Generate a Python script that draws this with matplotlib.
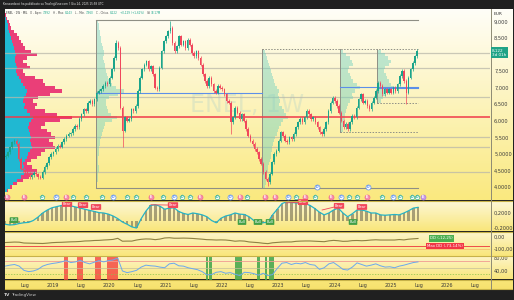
import numpy as np
import matplotlib.pyplot as plt
import matplotlib.colors as mcolors
from matplotlib.lines import Line2D

W, H = 514, 300

# ---------------- data ----------------
# biweekly closes (EUR), first bar mid-Feb 2018
bar_start = 2018.16
first_open = 4.90
c2018 = [4.95, 5.05, 5.20, 5.35, 5.40, 5.30, 4.85, 4.55, 4.50, 4.45, 4.40, 4.30, 4.35, 4.42, 4.38,
         4.30, 4.28, 4.45, 4.60, 4.72, 4.90, 5.00]
c2019 = [5.05, 5.15, 5.25, 5.22, 5.35, 5.45, 5.55, 5.60, 5.62, 5.75, 5.85, 5.80, 6.05, 6.20, 6.35,
         6.30, 6.55, 6.60, 6.50, 6.65, 6.85, 6.90, 6.95, 7.05, 7.15, 7.10]
c2020 = [7.30, 7.55, 7.90, 8.35, 8.20, 6.40, 5.70, 6.10, 6.00, 6.05, 6.35, 6.30, 6.45, 6.90, 7.30,
         7.55, 7.70, 7.80, 7.55, 7.65, 7.40, 7.00, 6.95, 7.60, 8.10, 8.40]
c2021 = [8.55, 8.70, 8.80, 8.35, 8.10, 8.25, 8.55, 8.30, 8.40, 8.20, 8.45, 8.30, 8.05, 7.95, 8.10,
         7.90, 7.70, 7.40, 7.20, 7.05, 7.30, 7.10, 6.90, 6.85, 7.05, 7.00]
c2022 = [6.95, 6.80, 6.60, 6.55, 5.95, 6.10, 6.40, 6.25, 6.05, 6.20, 6.00, 5.75, 5.55, 5.40, 5.30,
         5.15, 5.05, 4.85, 4.70, 4.45, 4.25, 4.15, 4.40, 4.75, 5.00, 5.10]
c2023 = [5.40, 5.65, 5.55, 5.40, 5.35, 5.50, 5.45, 5.60, 5.80, 5.95, 6.05, 5.95, 6.10, 6.30, 6.20,
         6.05, 6.10, 5.95, 5.80, 5.65, 5.60, 5.75, 5.95, 6.30, 6.55, 6.70]
c2024 = [6.60, 6.45, 6.25, 6.00, 5.80, 5.90, 5.75, 5.95, 6.15, 6.10, 6.40, 6.65, 6.80, 6.55, 6.60,
         6.45, 6.35, 6.55, 6.70, 6.90, 7.15, 7.05, 6.80, 6.95, 6.85, 6.95]
c2025 = [6.85, 7.00, 6.90, 7.10, 7.35, 7.50, 7.20, 6.85, 7.30, 7.55, 7.75, 7.95, 8.12]
closes = c2018 + c2019 + c2020 + c2021 + c2022 + c2023 + c2024 + c2025
# bars whose wick reaches well beyond the body: index -> (low, high)
wick_extremes = {51: (None, 8.44), 54: (5.20, None), 76: (None, 9.00), 104: (5.60, None),
                 121: (4.02, None), 185: (6.52, None)}

# visible-range volume profile (left), price levels 9.2 .. 3.9
vp_levels = [9.2, 9.1, 9.0, 8.9, 8.8, 8.7, 8.6, 8.5, 8.4, 8.3, 8.2, 8.1, 8.0, 7.9, 7.8, 7.7, 7.6, 7.5,
             7.4, 7.3, 7.2, 7.1, 7.0, 6.9, 6.8, 6.7, 6.6, 6.5, 6.4, 6.3, 6.2, 6.1, 6.0, 5.9, 5.8, 5.7,
             5.6, 5.5, 5.4, 5.3, 5.2, 5.1, 5.0, 4.9, 4.8, 4.7, 4.6, 4.5, 4.4, 4.3, 4.2, 4.1, 4.0, 3.9]
vp_total = [1, 2, 4, 5, 6, 9, 12, 14, 16, 18, 20, 26, 32, 22, 18, 22, 25, 18, 20, 30, 38, 40, 50, 57,
            45, 33, 28, 32, 30, 40, 52, 67, 55, 40, 36, 42, 46, 50, 44, 48, 50, 40, 36, 32, 26, 22,
            27, 32, 30, 24, 18, 12, 7, 3]
vp_up = [0.5, 1, 2, 3, 3, 4, 5, 6, 7, 8, 9, 10, 11, 10, 10, 11, 12, 11, 12, 14, 16, 18, 20, 22, 21,
         19, 18, 20, 19, 22, 25, 28, 26, 24, 23, 24, 25, 26, 25, 26, 27, 25, 23, 22, 20, 18, 19, 20,
         19, 16, 12, 8, 5, 2]

# fixed-range volume profiles (start date, low, high, levels from top, volumes)
box_start = [2019.764, 2022.712, 2024.098, 2024.755]
box_low = [3.97, 3.97, 5.66, 6.54]
box_high = [9.04, 8.17, 8.17, 8.17]
box1_vol = [2, 3, 3, 4, 4, 5, 5, 6, 7, 8, 8, 7, 8, 9, 9, 10, 11, 12, 14, 16, 20, 28, 22, 13, 10,
            10, 11, 12, 15, 21, 16, 9, 8, 7, 6, 5, 4, 4, 3, 3, 3, 2, 2, 2, 3, 3, 2, 2, 2, 1, 1]
box2_vol = [3, 4, 5, 6, 7, 8, 9, 10, 11, 12, 13, 15, 17, 16, 17, 18, 17, 20, 22, 24, 26, 21, 19, 17,
            16, 15, 13, 12, 11, 10, 10, 9, 9, 8, 7, 6, 6, 5, 5, 4, 4, 3]
box3_vol = [3, 6, 10, 12, 13, 9, 8, 10, 11, 13, 17, 20, 15, 12, 13, 10, 8, 7, 6, 5, 5, 4, 4, 3, 3]
box4_vol = [4, 8, 11, 14, 12, 8, 7, 9, 10, 12, 14, 16, 11, 8, 6, 4]
box_top_level = [9.0, 8.1, 8.1, 8.1]
box_poc = [(2019.764, 2022.712, 6.84), (2024.098, 2025.48, 7.02), (2024.755, 2025.48, 6.98)]
range_poc = 6.11
sr_levels = [8.05, 7.60, 6.72, 5.50, 5.20, 4.45]
last_bar = 2025.48

# events
earn_t = [2018.183, 2018.485, 2019.231, 2020.741, 2021.611, 2022.321, 2022.766, 2022.943,
          2023.476, 2023.938, 2024.577]
div_t = [2018.805, 2019.355, 2019.586, 2019.870, 2020.314, 2020.474, 2020.954, 2021.291, 2021.433,
         2021.913, 2022.446, 2023.316, 2023.654, 2024.258, 2024.400, 2024.844, 2025.163, 2025.377,
         2025.465]
split_t = [2019.053, 2020.066, 2021.149, 2022.144, 2023.174, 2024.115, 2025.039]
div_upper_t = [2023.689, 2024.595]
next_earn_t = [2025.572]

# monthly indicators, first point Feb 2018
ind_start = 2018.15
osc = [-0.10, -0.12, -0.11, -0.08, -0.06, -0.05, 0.00, 0.09, 0.20, 0.28, 0.34, 0.37, 0.40, 0.41,
       0.39, 0.36, 0.33, 0.30, 0.27, 0.24, 0.21, 0.20, 0.17, 0.12, 0.05, -0.04, -0.10, -0.17, -0.20,
       0.05, 0.25, 0.40, 0.42, 0.38, 0.30, 0.33, 0.34, 0.24, 0.19, 0.16, 0.20, 0.18, 0.15, 0.10,
       0.00, -0.06, 0.06, 0.12, 0.15, 0.20, 0.17, 0.16, 0.10, 0.00, -0.07, -0.06, -0.04, 0.15,
       0.30, 0.45, 0.50, 0.48, 0.47, 0.46, 0.45, 0.40, 0.32, 0.22, 0.15, 0.20, 0.28, 0.33, 0.20,
       0.10, 0.18, 0.28, 0.28, 0.25, 0.20, 0.20, 0.15, 0.14, 0.15, 0.16, 0.15, 0.20, 0.26, 0.33, 0.35]
dd = [-46, -44, -42, -43, -50, -51, -52, -53, -54, -51, -47,
      -45, -44, -42, -40, -39, -37, -33, -32, -29, -28, -25, -23,
      -20, -11, -35, -34, -34, -25, -19, -16, -17, -22, -17, -8,
      -6, -10, -10, -9, -10, -12, -15, -18, -22, -23, -25, -24,
      -25, -29, -35, -32, -34, -41, -44, -47, -52, -55, -48, -45,
      -42, -41, -41, -36, -34, -33, -33, -35, -37, -39, -32, -28,
      -31, -36, -35, -30, -29, -31, -29, -25, -23, -25, -25, -25,
      -25, -21, -24, -18, -15, -12.25]
max_dd = -73.14
rsi = [55, 58, 60, 55, 42, 38, 40, 45, 55, 60, 63, 65, 68, 72, 66, 68, 73, 66, 62, 67, 72, 68, 72,
       74, 80, 40, 35, 38, 42, 52, 58, 56, 55, 52, 50, 62, 64, 56, 55, 50, 47, 44, 38, 28, 29, 36,
       38, 33, 35, 30, 26, 36, 35, 32, 27, 33, 26, 29, 48, 64, 66, 60, 64, 62, 66, 60, 58, 45, 50,
       62, 66, 56, 45, 43, 52, 65, 60, 55, 58, 62, 56, 52, 53, 50, 55, 58, 62, 66, 68]
ob_zones = [(2019.195, 2019.266), (2019.426, 2019.533), (2019.746, 2019.853), (2019.959, 2020.155)]
os_zones = [(2021.717, 2021.753), (2021.771, 2021.824), (2022.233, 2022.357), (2022.623, 2022.677),
            (2022.766, 2022.801), (2022.837, 2022.925)]
bear_t = [2019.249, 2019.533, 2019.764, 2021.131, 2023.440, 2024.080, 2024.488]
bear_v = [0.44, 0.41, 0.36, 0.41, 0.49, 0.39, 0.36]
bull_t = [2018.307, 2022.357, 2022.641, 2022.855, 2024.329]
bull_v = [0.01, -0.04, -0.04, -0.04, -0.04]

price_ticks = [9.0, 8.5, 7.5, 7.0, 6.5, 6.0, 5.5, 5.0, 4.5, 4.0]
price_labels = ["9,000", "8,500", "7,500", "7,000", "6,500", "6,000", "5,500", "5,0000", "4,5000", "4,0000"]
time_ticks = [2018.5, 2019, 2019.5, 2020, 2020.5, 2021, 2021.5, 2022, 2022.5, 2023, 2023.5, 2024,
              2024.5, 2025, 2025.5, 2026, 2026.5]
time_labels = ["Lug", "2019", "Lug", "2020", "Lug", "2021", "Lug", "2022", "Lug", "2023", "Lug",
               "2024", "Lug", "2025", "Lug", "2026", "Lug"]

# ---------------- layout (pixels) ----------------
PX_L, PX_AX, PX_R = 4.5, 490.5, 512
PPY = 56.3                      # pixels per year
T0 = 2019 + (PX_L - 53) / PPY
T1 = 2019 + (PX_AX - 53) / PPY
UP, DN = "#1ba48b", "#f0475c"
TXT = "#3a3a3a"

fig = plt.figure(figsize=(W / 100, H / 100), dpi=100)
fig.patch.set_facecolor("#202020")


def box(x0, y0, x1, y1):
    return fig.add_axes([x0 / W, 1 - y1 / H, (x1 - x0) / W, (y1 - y0) / H])


def gradient(y0, y1, c_top, c_bot):
    a = box(PX_L, y0, PX_R, y1)
    a.axis("off")
    g = np.linspace(0, 1, 80)[:, None, None]
    img = np.array(mcolors.to_rgb(c_top)) * (1 - g) + np.array(mcolors.to_rgb(c_bot)) * g
    a.imshow(img, aspect="auto", extent=(0, 1, 0, 1), interpolation="bilinear")
    a.set_xlim(0, 1)
    a.set_ylim(0, 1)


gradient(9, 200.5, "#fffef8", "#fae97f")
gradient(200.5, 231.5, "#fdf8da", "#f9e67a")
gradient(231.5, 255.5, "#fdf6cf", "#f9e67a")
gradient(255.5, 279.5, "#fdf6cf", "#f9e67a")
gradient(279.5, 289, "#f9e67a", "#f7e26e")


def style(a, ylim, ticks, labels):
    a.set_facecolor("none")
    a.set_xlim(T0, T1)
    a.set_ylim(*ylim)
    for s in a.spines.values():
        s.set_visible(False)
    a.yaxis.tick_right()
    a.set_yticks(ticks)
    a.set_yticklabels(labels)
    a.tick_params(axis="y", length=0, pad=2.6, labelsize=3.6, labelcolor=TXT)
    a.set_xticks([])


MAIN_Y = (9 - (200.5 - 21.5) / 33.1, 9 + (21.5 - 9) / 33.1)

# left visible-range profile (under candles)
avp = box(PX_L, 9, 75, 200.5)
avp.set_facecolor("none")
avp.axis("off")
avp.set_xlim(0, 70.5)
avp.set_ylim(*MAIN_Y)
up = np.array(vp_up)
avp.barh(vp_levels, up, height=0.1, color="#20b8d2", lw=0)
avp.barh(vp_levels, np.array(vp_total) - up, left=up, height=0.1, color="#ea3f78", lw=0)

# main pane
ax = box(PX_L, 9, PX_AX, 200.5)
style(ax, MAIN_Y, price_ticks, price_labels)
ax.text(0.5, 0.5, "ENEL, 1W", transform=ax.transAxes, fontsize=17, color="#c9dcc3",
        alpha=0.5, ha="center", va="center", zorder=0)

for lv in sr_levels:
    ax.axhline(lv, color="#b9b8aa", lw=0.9, alpha=0.75, zorder=1)

# fixed-range profiles
for start, lo, hi, top, vols in zip(box_start, box_low, box_high, box_top_level,
                                    [box1_vol, box2_vol, box3_vol, box4_vol]):
    levels = top - 0.1 * np.arange(len(vols))
    ax.barh(levels, np.array(vols) / PPY, left=start, height=0.1, color="#6fd0bf", alpha=0.45,
            lw=0, zorder=2)
    ax.plot([start, start], [lo, hi], color="#8f8f85", lw=0.7, zorder=3)
ax.plot([box_start[0], last_bar], [box_high[0], box_high[0]], color="#8f8f85", lw=0.8, zorder=3)
ax.plot([box_start[0], last_bar], [box_low[0], box_low[0]], color="#8f8f85", lw=0.8, zorder=3)
ax.plot([box_start[1], last_bar], [box_high[1], box_high[1]], color="#8f8f85", lw=0.7, ls=(0, (1.5, 1.5)), zorder=3)
for i in (2, 3):
    ax.plot([box_start[i], last_bar], [box_low[i], box_low[i]], color="#8f8f85", lw=0.7,
            ls=(0, (1.5, 1.5)), zorder=3)
for a0, a1, lv in box_poc:
    ax.plot([a0, a1], [lv, lv], color="#5d8fe8", lw=0.8, zorder=3)
ax.axhline(range_poc, color="#f03a4a", lw=1.1, zorder=4)

# candles
t = bar_start + np.arange(len(closes)) / 26
opens = [first_open] + closes[:-1]
for i, (ti, o, c) in enumerate(zip(t, opens, closes)):
    col = UP if c >= o else DN
    lo, hi = min(o, c) - 0.05, max(o, c) + 0.05
    if i in wick_extremes:
        el, eh = wick_extremes[i]
        lo = el if el is not None else lo
        hi = eh if eh is not None else hi
    ax.vlines(ti, lo, hi, color=col, lw=0.5, zorder=5)
    ax.bar(ti, max(abs(c - o), 0.02), bottom=min(o, c), width=0.7 / 26, color=col, lw=0, zorder=5)


def events(ts, y, face, edge, letter, tc, marker, s=13):
    ax.scatter(ts, [y] * len(ts), s=s, marker=marker, facecolor=face, edgecolor=edge, lw=0.5,
               zorder=7, clip_on=False)
    for x in ts:
        ax.text(x, y, letter, fontsize=2.3, color=tc, ha="center", va="center", zorder=8,
                fontweight="bold")


ROW = 3.70
events(earn_t, ROW, "#f58fae", "#ef6a92", "E", "white", "o")
events(next_earn_t, ROW, "#c79be8", "#b07ad8", "E", "white", "o")
events(div_t, ROW, "white", "#3bb39a", "D", "#3bb39a", "p")
events(split_t, ROW, "white", "#5b8ff0", "D", "#5b8ff0", "o")
events(div_upper_t, 4.0, "white", "#5b8ff0", "D", "#5b8ff0", "o")

# oscillator pane
ao = box(PX_L, 200.5, PX_AX, 231.5)
style(ao, (-0.293, 0.533), [0.2, -0.2], ["0,2000", "-0,2000"])
tm = ind_start + np.arange(len(osc)) / 12
ao.bar(tm, osc, width=0.045, color="#8c8463", alpha=0.75, lw=0, zorder=2)
ao.plot(tm, osc, color="#25b3c6", lw=0.9, zorder=3)
ao.plot([2020.74, 2021.13], [0.42, 0.41], color="#f0475c", lw=0.6, zorder=3)
ao.plot([2023.14, 2023.44], [0.47, 0.49], color="#f0475c", lw=0.6, zorder=3)
ao.plot([2023.78, 2024.08], [0.28, 0.39], color="#f0475c", lw=0.6, zorder=3)
for x, v in zip(bear_t, bear_v):
    ao.text(x, v, "Bear", fontsize=2.6, color="white", ha="center", va="center", zorder=6,
            bbox=dict(boxstyle="round,pad=0.25,rounding_size=0.2", fc="#f2485c", ec="none"))
for x, v in zip(bull_t, bull_v):
    ao.text(x, v, "Bull", fontsize=2.6, color="white", ha="center", va="center", zorder=6,
            bbox=dict(boxstyle="round,pad=0.25,rounding_size=0.2", fc="#43a047", ec="none"))

# drawdown pane
ad = box(PX_L, 231.5, PX_AX, 255.5)
style(ad, (-154, 46), [0, -100], ["0,00", "-100,00"])
ad.plot(tm, dd, color="#8f8143", lw=0.8, zorder=3)
ad.axhline(max_dd, color="#ee4b4b", lw=0.7, zorder=2)
ad.axhline(-100, color="#f6b36a", lw=0.6, alpha=0.8, zorder=2)
ad.text(2025.70, -12.25, "DD (-12,25)", fontsize=2.8, color="white", ha="left", va="center",
        bbox=dict(boxstyle="square,pad=0.3", fc="#4caf50", ec="none"), zorder=6)
ad.text(2025.64, -75, "Max DD (-73,14%)", fontsize=2.8, color="white", ha="left", va="center",
        bbox=dict(boxstyle="square,pad=0.3", fc="#f23645", ec="none"), zorder=6)

# rsi pane
ar = box(PX_L, 255.5, PX_AX, 279.5)
style(ar, (13.8, 87.7), [80, 40], ["80,00", "40,00"])
for a0, a1 in ob_zones:
    ar.axvspan(a0, a1, color="#f4433f", alpha=0.8, lw=0, zorder=1)
for a0, a1 in os_zones:
    ar.axvspan(a0, a1, color="#3fa34a", alpha=0.85, lw=0, zorder=1)
ar.axhline(70, color="#f29a90", lw=0.6, zorder=2)
ar.axhline(50, color="#c4bf9c", lw=0.5, zorder=2)
ar.axhline(30, color="#8bc34a", lw=0.5, ls=(0, (2, 2)), zorder=2)
ar.plot(tm, rsi, color="#6aa8ef", lw=0.7, zorder=3)
ar.set_xticks(time_ticks)
ar.set_xticklabels(time_labels)
ar.tick_params(axis="x", length=0, pad=2.2, labelsize=3.5, labelcolor=TXT)

# separators and axis line
for yy in (200.5, 231.5, 255.5, 279.5, 289):
    fig.add_artist(Line2D([PX_L / W, PX_R / W], [1 - yy / H] * 2, color="#c7b24a", lw=0.8))
fig.add_artist(Line2D([PX_AX / W] * 2, [1 - 9 / H, 1 - 289 / H], color="#8d8a74", lw=0.7))

# price tag and currency
fig.text(492 / W, 1 - 52.5 / H, "8,122\n3d 01h", fontsize=3.0, color="white", ha="left",
         va="center", linespacing=1.0,
         bbox=dict(boxstyle="square,pad=0.3", fc="#1fa386", ec="none"))
fig.text(494 / W, 1 - 14 / H, "EUR", fontsize=3.2, color=TXT, ha="left", va="center")

# header texts
fig.text(3 / W, 1 - 4.3 / H, "Kenwardzxci ha pubblicato su TradingView.com il Giu 24, 2025 15:58 UTC",
         fontsize=2.0, color="#e8e8e8", ha="left", va="center")
fig.text(4 / W, 1 - 295 / H, "TV", fontsize=3.2, color="#d0d0d0", ha="left", va="center",
         fontweight="bold")
fig.text(11 / W, 1 - 295 / H, "TradingView", fontsize=3.0, color="#c8c8c8", ha="left", va="center")

renderer = fig.canvas.get_renderer()
GRAY, TEAL = "#555555", "#1aa58a"
parts = [("ENEL · 1W · MIL", TXT, 2.5), ("O - Aper.", GRAY, 0), ("7,992", TEAL, 2),
         ("H - Max.", GRAY, 0), ("8,143", TEAL, 2), ("L - Min.", GRAY, 0), ("7,960", TEAL, 2),
         ("C - Chius.", GRAY, 0), ("8,122", TEAL, 2), ("+0,129 (+1,61%)", TEAL, 2),
         ("Vol", GRAY, 0), ("38,17M", TEAL, 0)]
x = 6.0
for s, col, gap in parts:
    tx = fig.text(x / W, 1 - 12.6 / H, s, fontsize=2.0, color=col, ha="left", va="center")
    x += tx.get_window_extent(renderer).width + 0.5 + gap

fig.savefig("out.png", dpi=100, facecolor=fig.get_facecolor())
